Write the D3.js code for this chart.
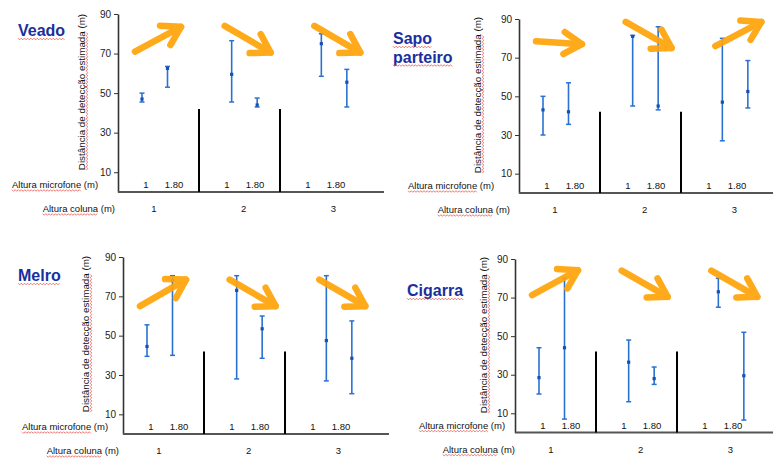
<!DOCTYPE html>
<html>
<head>
<meta charset="utf-8">
<script src="https://cdn.jsdelivr.net/npm/d3@7"></script>
<style>
  body { margin: 0; background: #fff; }
  text { font-family: 'Liberation Sans', Arial, sans-serif; }
</style>
</head>
<body>
<div id="chart"></div>
<script>
/* globals d3 */

let species = [['Veado'], ['Sapo', 'parteiro'], ['Melro'], ['Cigarra']]
let columnHeights = ['1', '2', '3']
let micHeights = ['1', '1.80']
let yTicks = [10, 30, 50, 70, 90]

// order: coluna 1 (mic 1, mic 1.80), coluna 2 (...), coluna 3 (...)
let veadoMean = [47, 62.5, 59.5, 44, 75, 55.5]
let veadoLow = [45.5, 53, 45.5, 43, 58.5, 43]
let veadoHigh = [50, 63.5, 76.5, 47.5, 80, 62]

let sapoMean = [43, 42, 81, 45, 47, 52.5]
let sapoLow = [30, 35.5, 45, 43, 27, 44]
let sapoHigh = [50, 57, 81.5, 86, 80, 68.5]

let melroMean = [44.5, 78, 73, 53.5, 47.5, 38.5]
let melroLow = [39.5, 40, 28, 38.5, 27, 20.5]
let melroHigh = [55.5, 80.5, 80.5, 60, 80.5, 57.5]

let cigarraMean = [28.5, 44, 36.5, 28, 73, 29.5]
let cigarraLow = [20, 7, 16, 25, 65, 6.5]
let cigarraHigh = [44, 80, 48, 34, 80, 52]

// trend arrows, one per coluna: value at tail, value at head
let veadoArrowFrom = [71, 84, 84]
let veadoArrowTo = [83.5, 70.5, 70.5]
let sapoArrowFrom = [78.5, 88.5, 76]
let sapoArrowTo = [77, 75, 88.5]
let melroArrowFrom = [65, 78.5, 78.5]
let melroArrowTo = [78.5, 65, 65]
let cigarraArrowFrom = [71.3, 84, 84]
let cigarraArrowTo = [84.2, 70.4, 70.4]

let means = [veadoMean, sapoMean, melroMean, cigarraMean]
let lows = [veadoLow, sapoLow, melroLow, cigarraLow]
let highs = [veadoHigh, sapoHigh, melroHigh, cigarraHigh]
let arrowFrom = [veadoArrowFrom, sapoArrowFrom, melroArrowFrom, cigarraArrowFrom]
let arrowTo = [veadoArrowTo, sapoArrowTo, melroArrowTo, cigarraArrowTo]

// where each small chart sits on the slide
let panels = [
  {axisX: 118, top: 14, bottom: 192, titleX: 18, titleY: 36, micX: 12, colEnd: 115, labX: 81, labY: 92},
  {axisX: 519, top: 19, bottom: 193, titleX: 393, titleY: 44, micX: 408, colEnd: 510, labX: 477, labY: 95},
  {axisX: 123, top: 257, bottom: 434, titleX: 18, titleY: 281, micX: 22, colEnd: 119, labX: 85, labY: 334},
  {axisX: 515, top: 259, bottom: 432.6, titleX: 407, titleY: 296, micX: 419, colEnd: 515, labX: 483, labY: 335}
]

let width = 773
let height = 461
let blue = '#2a72d2'
let orange = '#ffa40a'
let svg

function main () {
  svg = d3.select('#chart').append('svg').attr('width', width).attr('height', height)
  panels.forEach((p, i) => drawPanel(i))
}

function squiggle (sel, x0, x1, yy) {
  let pts = []
  let k = 0
  for (let x = x0; x <= x1; x += 1.6) {
    pts.push([x, yy + (k % 2 ? 0.8 : -0.8)])
    k++
  }
  sel.append('path')
      .attr('d', d3.line()(pts))
      .attr('fill', 'none')
      .attr('stroke', '#e5413a')
      .attr('stroke-width', 0.7)
}

function drawArrow (g, x1, y1, x2, y2) {
  let a = Math.atan2(y2 - y1, x2 - x1)
  let len = 21
  let head = [
    [x2 + len * Math.cos(a + Math.PI - 0.55), y2 + len * Math.sin(a + Math.PI - 0.55)],
    [x2, y2],
    [x2 + len * Math.cos(a + Math.PI + 0.55), y2 + len * Math.sin(a + Math.PI + 0.55)]
  ]
  let ag = g.append('g')
      .attr('stroke', orange)
      .attr('stroke-width', 6.5)
      .attr('stroke-linecap', 'round')
      .attr('stroke-linejoin', 'round')
      .attr('fill', 'none')
      .attr('opacity', 0.93)
  ag.append('path').attr('d', d3.line()([[x1, y1], [x2, y2]]))
  ag.append('path').attr('d', d3.line()(head))
}

function drawPanel (i) {
  let p = panels[i]
  let g = svg.append('g')

  let y = d3.scaleLinear().domain([0, 90]).range([p.bottom, p.top])
  let xBar = d3.scaleBand().domain(columnHeights).range([p.axisX + 1, p.axisX + 270])
  let xMic = d3.scalePoint().domain(micHeights).range([23, 48.5])
  let xGroup = d3.scaleBand().domain(columnHeights).range([p.axisX, p.axisX + 243])
  let xMicLabel = d3.scalePoint().domain(micHeights).range([28, 56])

  // y axis
  let yAxis = d3.axisLeft(y).tickValues(yTicks).tickSize(4).tickSizeOuter(0).tickPadding(3)
  let ya = g.append('g').attr('transform', 'translate(' + p.axisX + ',0)').call(yAxis)
  ya.select('.domain').attr('stroke', '#333').attr('stroke-width', 1.6)
  ya.selectAll('.tick line').attr('stroke', '#333')
  ya.selectAll('.tick text').attr('fill', '#222').style('font-size', '10px')
      .style('font-family', "'Liberation Sans', Arial, sans-serif")

  // x axis line
  g.append('line')
      .attr('x1', p.axisX).attr('x2', p.axisX + 266)
      .attr('y1', y(0)).attr('y2', y(0))
      .attr('stroke', '#555').attr('stroke-width', 2)

  // separators between colunas
  g.selectAll('.sep').data(columnHeights.slice(1)).enter().append('line')
      .attr('x1', (d) => xGroup(d)).attr('x2', (d) => xGroup(d))
      .attr('y1', y(0)).attr('y2', y(42))
      .attr('stroke', '#000').attr('stroke-width', 2)

  // title
  let title = g.append('g')
  species[i].forEach((line, li) => {
    let t = title.append('text')
        .attr('x', p.titleX).attr('y', p.titleY + li * 18.5)
        .attr('fill', '#1a2f9e')
        .style('font-size', '16px')
        .style('font-weight', 'bold')
        .text(line)
    squiggle(title, p.titleX, p.titleX + t.node().getComputedTextLength(), p.titleY + li * 18.5 + 3)
  })

  // y label
  let lab = g.append('g').attr('transform', 'translate(' + (p.labX + 3.5) + ',' + p.labY + ') rotate(-90)')
  let lt = lab.append('text')
      .attr('text-anchor', 'middle')
      .attr('fill', '#111')
      .style('font-size', '9.8px')
      .text('Distância de detecção estimada (m)')
  let ltLen = lt.node().getComputedTextLength()
  squiggle(lab, -ltLen / 2, -ltLen / 2 + lt.node().getSubStringLength(0, 30), 2.5)

  // microphone height labels
  let micY = y(0) - 4
  let mt = g.append('text')
      .attr('x', p.micX).attr('y', micY)
      .attr('fill', '#111')
      .style('font-size', '9.5px')
      .text('Altura microfone (m)')
  squiggle(g, p.micX, p.micX + mt.node().getSubStringLength(0, 16), micY + 2.5)

  columnHeights.forEach((c) => {
    g.selectAll('.mic' + c).data(micHeights).enter().append('text')
        .attr('x', (m) => xGroup(c) + xMicLabel(m))
        .attr('y', micY)
        .attr('text-anchor', 'middle')
        .attr('fill', '#111')
        .style('font-size', '9.5px')
        .text((m) => m)
  })

  // column height labels
  let colY = y(0) + 20
  let ct = g.append('text')
      .attr('x', p.colEnd).attr('y', colY)
      .attr('text-anchor', 'end')
      .attr('fill', '#111')
      .style('font-size', '9.5px')
      .text('Altura coluna (m)')
  let ctLen = ct.node().getComputedTextLength()
  squiggle(g, p.colEnd - ctLen, p.colEnd - ctLen + ct.node().getSubStringLength(0, 13), colY + 2.5)

  g.selectAll('.col').data(columnHeights).enter().append('text')
      .attr('x', (c) => xBar(c) + 35)
      .attr('y', colY)
      .attr('text-anchor', 'middle')
      .attr('fill', '#111')
      .style('font-size', '9.5px')
      .text((c) => c)

  // error bars
  let rows = []
  columnHeights.forEach((c, ci) => {
    micHeights.forEach((m, mi) => {
      let k = ci * 2 + mi
      rows.push({c: c, m: m, mean: means[i][k], low: lows[i][k], high: highs[i][k]})
    })
  })
  let bar = g.selectAll('.bar').data(rows).enter().append('g')
      .attr('transform', (d) => 'translate(' + (xBar(d.c) + xMic(d.m)) + ',0)')
  bar.append('line')
      .attr('y1', (d) => y(d.low)).attr('y2', (d) => y(d.high))
      .attr('stroke', blue).attr('stroke-width', 1.6)
  bar.append('line')
      .attr('x1', -2.5).attr('x2', 2.5)
      .attr('y1', (d) => y(d.low)).attr('y2', (d) => y(d.low))
      .attr('stroke', blue).attr('stroke-width', 1.5)
  bar.append('line')
      .attr('x1', -2.5).attr('x2', 2.5)
      .attr('y1', (d) => y(d.high)).attr('y2', (d) => y(d.high))
      .attr('stroke', blue).attr('stroke-width', 1.5)
  bar.append('rect')
      .attr('x', -1.6).attr('width', 3.2)
      .attr('y', (d) => y(d.mean) - 1.6).attr('height', 3.2)
      .attr('fill', '#1650b4')

  // trend arrows
  let xArrow = d3.scalePoint().domain(['from', 'to']).range([16, 62])
  columnHeights.forEach((c, ci) => {
    drawArrow(g, xBar(c) + xArrow('from'), y(arrowFrom[i][ci]), xBar(c) + xArrow('to'), y(arrowTo[i][ci]))
  })
}

main()
</script>
</body>
</html>
